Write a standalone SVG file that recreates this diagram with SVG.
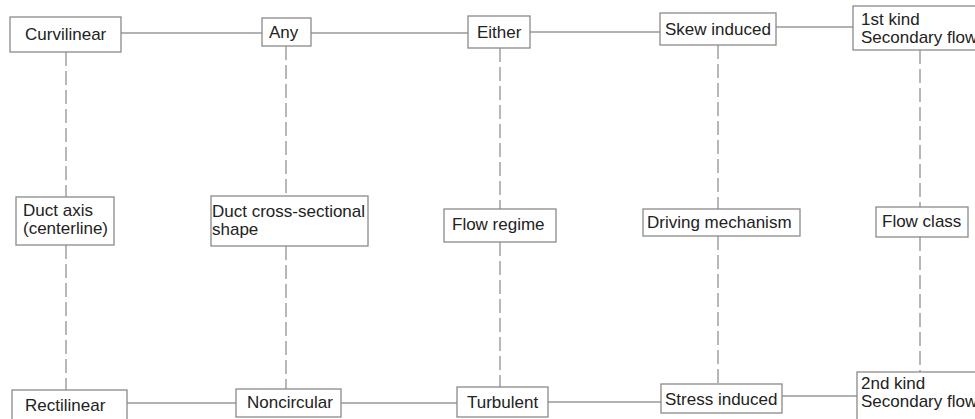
<svg xmlns="http://www.w3.org/2000/svg" width="975" height="419" viewBox="0 0 975 419">
<style>
.box{fill:#fff;stroke:#8a8a8a;stroke-width:1.3}
.t{font-family:"Liberation Sans",Arial,sans-serif;font-size:17px;fill:#222}
.ln{stroke:#999;stroke-width:1.5;fill:none}
.dash{stroke:#a0a0a0;stroke-width:1.5;stroke-dasharray:14 5;fill:none}
</style>
<rect width="975" height="419" fill="#fff"/>
<g id="connectors">
<line class="ln" x1="121" y1="33" x2="262" y2="33"/>
<line class="ln" x1="311" y1="33" x2="468" y2="33"/>
<line class="ln" x1="530" y1="32" x2="660" y2="32"/>
<line class="ln" x1="776" y1="27" x2="853" y2="27"/>
<line class="ln" x1="127" y1="403" x2="236" y2="403"/>
<line class="ln" x1="341" y1="403" x2="457" y2="403"/>
<line class="ln" x1="548" y1="402" x2="661" y2="402"/>
<line class="ln" x1="782" y1="396" x2="857" y2="396"/>
<line class="dash" x1="66" y1="52" x2="66" y2="197"/>
<line class="dash" x1="66" y1="245" x2="66" y2="390"/>
<line class="dash" x1="286" y1="46" x2="286" y2="196"/>
<line class="dash" x1="286" y1="246" x2="286" y2="389"/>
<line class="dash" x1="500" y1="48" x2="500" y2="209"/>
<line class="dash" x1="500" y1="242" x2="500" y2="387"/>
<line class="dash" x1="718" y1="45" x2="718" y2="209"/>
<line class="dash" x1="718" y1="236" x2="718" y2="384"/>
<line class="dash" x1="920" y1="50" x2="920" y2="207"/>
<line class="dash" x1="920" y1="237" x2="920" y2="372"/>
</g>
<g id="curvilinear"><rect class="box" x="10" y="17" width="111" height="35"/><text class="t" x="25" y="40">Curvilinear</text></g>
<g id="any"><rect class="box" x="262" y="18" width="49" height="28"/><text class="t" x="269" y="38">Any</text></g>
<g id="either"><rect class="box" x="468" y="16" width="62" height="32"/><text class="t" x="477" y="38">Either</text></g>
<g id="skew-induced"><rect class="box" x="660" y="13" width="116" height="32"/><text class="t" x="665" y="35">Skew induced</text></g>
<g id="first-kind"><rect class="box" x="853" y="6" width="130" height="44"/><text class="t" x="861" y="25">1st kind</text><text class="t" x="861" y="43">Secondary flow</text></g>
<g id="duct-axis"><rect class="box" x="16" y="197" width="98" height="48"/><text class="t" x="23" y="216">Duct axis</text><text class="t" x="23" y="234">(centerline)</text></g>
<g id="duct-shape"><rect class="box" x="211" y="196" width="157" height="50"/><text class="t" x="212" y="217">Duct cross-sectional</text><text class="t" x="212" y="235">shape</text></g>
<g id="flow-regime"><rect class="box" x="444" y="209" width="112" height="33"/><text class="t" x="452" y="230">Flow regime</text></g>
<g id="driving-mechanism"><rect class="box" x="643" y="209" width="157" height="27"/><text class="t" x="647" y="228">Driving mechanism</text></g>
<g id="flow-class"><rect class="box" x="876" y="207" width="92" height="30"/><text class="t" x="882" y="227">Flow class</text></g>
<g id="rectilinear"><rect class="box" x="12" y="390" width="115" height="35"/><text class="t" x="25" y="411">Rectilinear</text></g>
<g id="noncircular"><rect class="box" x="236" y="389" width="105" height="28"/><text class="t" x="247" y="408">Noncircular</text></g>
<g id="turbulent"><rect class="box" x="457" y="387" width="91" height="30"/><text class="t" x="467" y="408">Turbulent</text></g>
<g id="stress-induced"><rect class="box" x="661" y="384" width="121" height="29"/><text class="t" x="665" y="405">Stress induced</text></g>
<g id="second-kind"><rect class="box" x="857" y="372" width="130" height="52"/><text class="t" x="861" y="389">2nd kind</text><text class="t" x="861" y="407">Secondary flow</text></g>
</svg>
